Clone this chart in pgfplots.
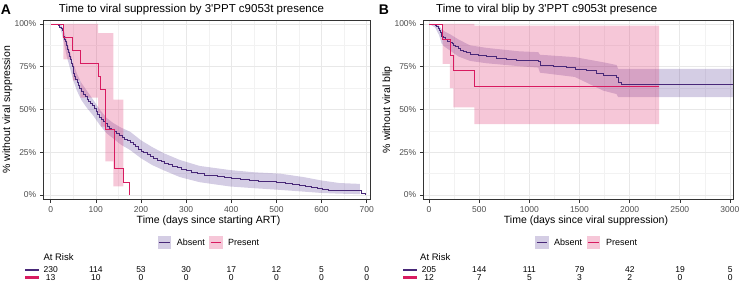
\documentclass[border=0pt]{standalone}
\usepackage{fontspec}
\setmainfont{Liberation Sans}
\usepackage{pgfplots}
\usepackage{pgfplotstable}
\pgfplotsset{compat=1.18}
\usepgfplotslibrary{fillbetween}

\definecolor{absline}{RGB}{72,40,120}
\definecolor{absfill}{RGB}{90,60,150}
\definecolor{presline}{RGB}{216,27,96}
\definecolor{presfill}{RGB}{222,40,105}
\definecolor{frame}{RGB}{51,51,51}
\definecolor{ticktext}{RGB}{77,77,77}

% ---------- Panel A: time to viral suppression ----------
\pgfplotstableread{
d s
0 100
17 99.1
20 98.3
23 97.4
25 96.1
27 94.8
29 93.0
31 91.3
33 89.6
35 87.4
37 85.2
39 83.5
41 81.3
43 79.1
45 77.0
47 75.2
49 73.0
51 71.3
53 69.6
55 67.8
58 66.1
61 64.3
64 62.6
68 60.4
72 59.1
76 57.8
80 56.1
84 54.8
88 53.5
92 52.2
96 50.4
100 48.7
104 47.4
108 45.7
112 44.3
116 43.0
120 41.7
125 40.4
130 39.1
135 38.3
140 37.0
146 36.1
152 34.8
158 33.9
164 32.6
170 31.7
176 30.9
182 29.6
188 28.3
194 27.0
200 25.7
206 24.8
213 23.9
220 22.6
228 21.7
236 20.4
244 19.6
252 18.7
260 17.8
270 16.9
280 16.1
290 15.2
300 14.3
312 13.5
325 12.6
340 11.7
355 11.3
370 10.9
385 10.4
400 9.8
420 9.2
440 8.7
460 8.3
480 7.9
500 7.5
520 7.0
535 6.4
550 5.8
565 5.2
578 4.6
590 4.0
602 3.4
615 2.9
688 1.2
697 0
}\absA

\pgfplotstableread{
d s
0 100
18 100
24 99.5
30 95.5
36 90
43 83.5
50 77
58 71
68 65.5
80 61
94 55.7
110 49.5
124 45
139 42
155 39.5
176 37
200 32
225 28
250 24.5
286 20.5
330 17
397 14.6
450 13.3
508 12.5
560 10.5
600 8.5
640 7
685 6.5
}\absAup

\pgfplotstableread{
d s
0 100
18 100
24 95
30 88
36 80.5
43 74
50 67
58 61
68 55.5
80 51
94 46.5
110 40.5
124 36
139 33
155 29.5
176 26.3
200 21.5
225 17.5
250 14.5
286 10.5
330 7.5
397 5
450 4
508 3
560 2
600 1.2
640 0.8
685 0.5
}\absAlo

\pgfplotstableread{
d s
0 100
28 92.31
49 84.62
66 76.92
106 69.23
111 61.54
121 38.46
140 15.38
161 7.69
174 0
}\preA

\pgfplotstableread{
d s
28 100
105 94.7
139 55.7
161 55.7
}\preAup

\pgfplotstableread{
d s
28 79.3
49 67
66 57
105 48
111 40
121 19.7
139 5
161 5
}\preAlo

% ---------- Panel B: time to viral blip ----------
\pgfplotstableread{
d s
0 100
40 99.5
60 99.2
75 98.4
90 97.5
100 96.5
115 95.0
126 93.0
140 92.2
159 90.9
185 90.1
209 89.4
230 88.5
242 87.8
265 86.7
292 85.5
315 84.8
342 84.1
375 83.3
408 82.5
450 82.0
491 81.6
575 81.0
674 80.2
774 79.6
873 79.0
973 78.6
1089 78.2
1106 75.7
1238 75.3
1372 74.7
1454 73.7
1571 72.7
1670 71.4
1737 69.8
1870 68.6
1886 65.9
1919 64.5
3030 64.5
}\absB

\pgfplotstableread{
d s
0 100
60 100
100 99
126 97
159 95.5
209 94
292 91
408 87.5
575 86
900 84
1089 83.5
1106 82
1454 80.6
1737 77.6
1870 76
1886 73.7
3030 73.7
}\absBup

\pgfplotstableread{
d s
0 100
60 98
100 93.5
126 88.5
159 86.5
209 84.5
292 81
408 78.4
575 77
900 75.3
1089 74.5
1106 71.5
1454 69
1737 61
1870 59
1886 57.2
3030 57.2
}\absBlo

\pgfplotstableread{
d s
0 100
136 90.91
209 81.82
243 72.73
451 63.64
2294 63.64
}\preB

\pgfplotstableread{
d s
136 100
451 99
2294 99
}\preBup

\pgfplotstableread{
d s
136 76.6
209 62.5
243 51.2
451 41.4
2294 41.4
}\preBlo

\pgfplotsset{
  kmaxis/.style={
    scale only axis,
    height=179.3pt,
    ymin=-2.5, ymax=102.3,
    ytick={0,25,50,75,100},
    yticklabels={0\%,25\%,50\%,75\%,100\%},
    minor x tick num=1, minor y tick num=1,
    grid=both,
    major grid style={black!9, line width=0.55pt},
    minor grid style={black!5, line width=0.35pt},
    axis line style={frame, line width=0.6pt},
    tick align=outside, tick pos=left,
    major tick length=3.5pt, minor tick length=0pt,
    every tick/.style={frame, line width=0.5pt},
    ticklabel style={font=\fontsize{8.5}{10}\selectfont, text=ticktext},
    /pgf/number format/assume math mode=true,
    /pgf/number format/set thousands separator={},
  },
  bandfill/.style={draw=none, fill=#1, fill opacity=0.26},
}

\begin{document}
\begin{tikzpicture}

% ===== Panel A =====
\begin{axis}[kmaxis, at={(43.3pt,87.7pt)}, anchor=south west,
  width=326.7pt, xmin=-16.4, xmax=707.4, xtick={0,100,...,700}]
  \addplot[name path=aU, draw=none] table {\absAup};
  \addplot[name path=aL, draw=none] table {\absAlo};
  \addplot[bandfill=absfill] fill between[of=aU and aL];
  \addplot[name path=pU, draw=none, const plot] table {\preAup};
  \addplot[name path=pL, draw=none, const plot] table {\preAlo};
  \addplot[bandfill=presfill] fill between[of=pU and pL];
  \addplot[absline, line width=0.6pt, const plot] table {\absA};
  \addplot[presline, line width=0.7pt, const plot] table {\preA};
\end{axis}

% ===== Panel B =====
\begin{axis}[kmaxis, at={(423.3pt,87.7pt)}, anchor=south west,
  width=310pt, xmin=-57, xmax=3034, xtick={0,500,...,3000}]
  \addplot[name path=bU, draw=none] table {\absBup};
  \addplot[name path=bL, draw=none] table {\absBlo};
  \addplot[bandfill=absfill] fill between[of=bU and bL];
  \addplot[name path=qU, draw=none, const plot] table {\preBup};
  \addplot[name path=qL, draw=none, const plot] table {\preBlo};
  \addplot[bandfill=presfill] fill between[of=qU and qL];
  \addplot[absline, line width=0.6pt, const plot] table {\absB};
  \addplot[presline, line width=0.7pt, const plot] table {\preB};
\end{axis}

% ----- titles and panel letters -----
\node[font=\fontsize{14}{16}\bfseries] at (6pt,277.5pt) {A};
\node[font=\fontsize{14}{16}\bfseries] at (384pt,277.5pt) {B};
\node[font=\fontsize{11.5}{13}\selectfont] at (191.5pt,277.5pt)
  {Time to viral suppression by 3\textquotesingle PPT c9053t presence};
\node[font=\fontsize{11.5}{13}\selectfont] at (546.7pt,277.5pt)
  {Time to viral blip by 3\textquotesingle PPT c9053t presence};

% ----- axis titles -----
\node[rotate=90, font=\fontsize{10.5}{12}\selectfont] at (7.5pt,177.3pt) {\% without viral suppression};
\node[rotate=90, font=\fontsize{10.5}{12}\selectfont] at (387.5pt,177.3pt) {\% without viral blip};
\node[font=\fontsize{10.5}{12}\selectfont] at (208.5pt,66.5pt) {Time (days since starting ART)};
\node[font=\fontsize{10.5}{12}\selectfont] at (586pt,66.5pt) {Time (days since viral suppression)};

% ----- legends -----
\foreach \bx/\tx/\cx/\px in {157.7/176.7/209.3/228, 535.3/554/586.7/606}{
  \fill[absfill, opacity=0.26] (\bx pt,37.9pt) rectangle ++(13.3pt,12.8pt);
  \draw[absline, line width=0.6pt] (\bx pt+1.2pt,44.3pt) -- ++(10.9pt,0);
  \node[anchor=west, inner sep=0pt, font=\fontsize{9}{10}\selectfont] at (\tx pt,44.3pt) {Absent};
  \fill[presfill, opacity=0.26] (\cx pt,37.9pt) rectangle ++(13.3pt,12.8pt);
  \draw[presline, line width=0.7pt] (\cx pt+1.2pt,44.3pt) -- ++(10.9pt,0);
  \node[anchor=west, inner sep=0pt, font=\fontsize{9}{10}\selectfont] at (\px pt,44.3pt) {Present};
}

% ----- numbers at risk -----
\node[anchor=west, inner sep=0pt, font=\fontsize{9.5}{11}\selectfont] at (43.3pt,30.3pt) {At Risk};
\node[anchor=west, inner sep=0pt, font=\fontsize{9.5}{11}\selectfont] at (420pt,30.3pt) {At Risk};
\draw[absline, line width=2.4pt] (25pt,17.3pt) -- (39.3pt,17.3pt);
\draw[presline, line width=2.4pt] (25pt,9.7pt) -- (39.3pt,9.7pt);
\draw[absline, line width=2.4pt] (403.3pt,17.3pt) -- (416.7pt,17.3pt);
\draw[presline, line width=2.4pt] (403.3pt,9.7pt) -- (416.7pt,9.7pt);
\foreach \k/\a/\p in {0/230/13, 1/114/10, 2/53/0, 3/30/0, 4/17/0, 5/12/0, 6/5/0, 7/0/0}{
  \node[inner sep=0pt, font=\fontsize{8.5}{9}\selectfont] at (50.7pt+45.14pt*\k,17.3pt) {\a};
  \node[inner sep=0pt, font=\fontsize{8.5}{9}\selectfont] at (50.7pt+45.14pt*\k,9.7pt) {\p};
}
\foreach \k/\a/\p in {0/205/12, 1/144/7, 2/111/5, 3/79/3, 4/42/2, 5/19/0, 6/5/0}{
  \node[inner sep=0pt, font=\fontsize{8.5}{9}\selectfont] at (429pt+50.2pt*\k,17.3pt) {\a};
  \node[inner sep=0pt, font=\fontsize{8.5}{9}\selectfont] at (429pt+50.2pt*\k,9.7pt) {\p};
}

% page area
\pgfresetboundingbox
\path (0,0) rectangle (741pt,287pt);
\end{tikzpicture}
\end{document}
